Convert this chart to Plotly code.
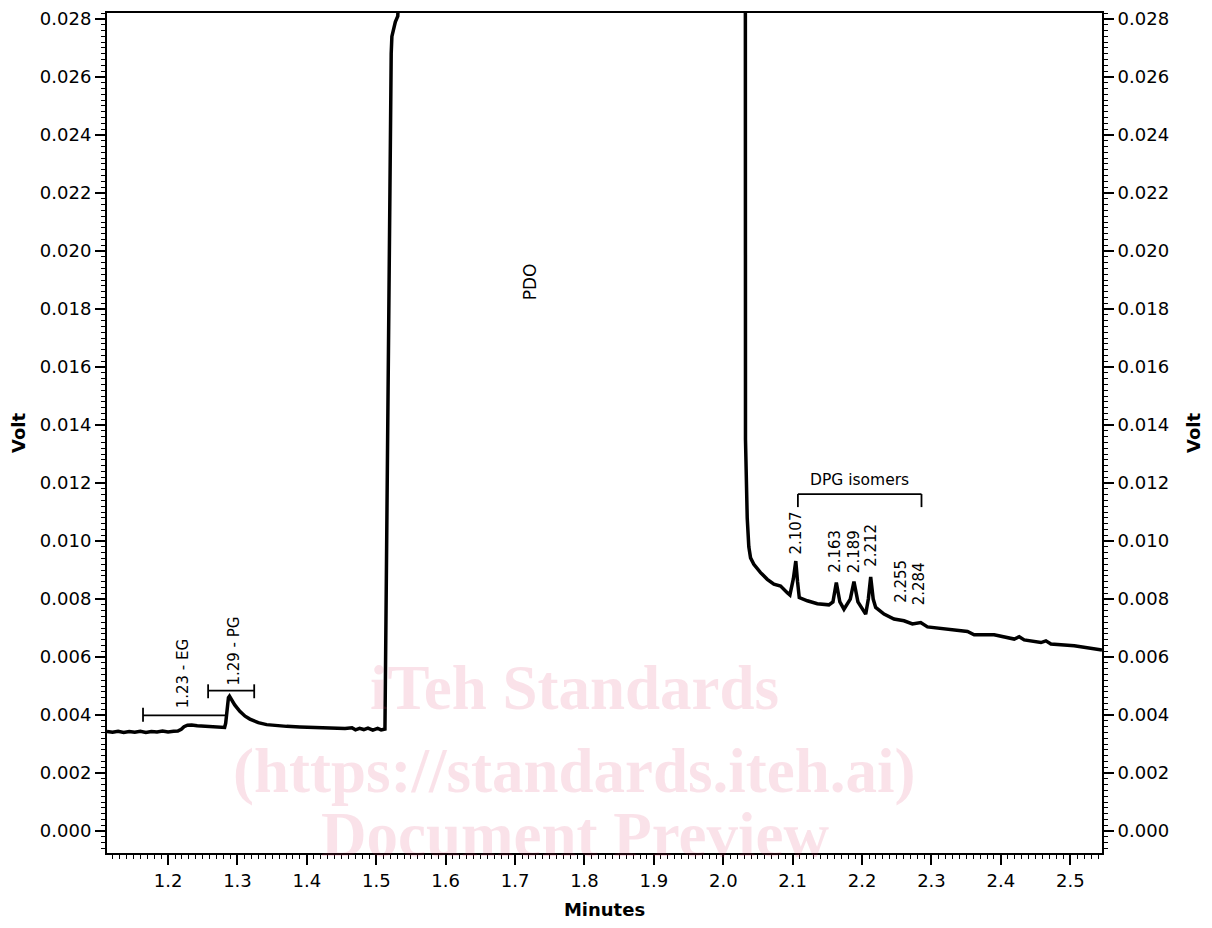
import plotly.graph_objects as go

# ---- data ----
time_min = [
    1.112, 1.120, 1.128, 1.136, 1.144, 1.152, 1.160, 1.168, 1.176, 1.184,
    1.192, 1.200, 1.208, 1.214, 1.219, 1.223, 1.228, 1.234, 1.242, 1.252,
    1.262, 1.272, 1.2815, 1.2830, 1.2845, 1.2870, 1.2885, 1.2910, 1.2960, 1.3034,
    1.3110, 1.3179, 1.3300, 1.3420, 1.3560, 1.3708, 1.3900, 1.4100, 1.4376, 1.4550,
    1.4650, 1.4700, 1.4760, 1.4820, 1.4880, 1.4950, 1.5020, 1.5070, 1.5125, 1.5140,
    1.5160, 1.5180, 1.5199, 1.5215, 1.5225, 1.5250, 1.5275, 1.5310, 1.5340, 1.5600,
    1.7800, 2.0000, 2.0318, 2.0320, 2.0345, 2.0368, 2.0393, 2.0440, 2.0537, 2.0634,
    2.0729, 2.0826, 2.0922, 2.0960, 2.1010, 2.1045, 2.1070, 2.1095, 2.1211, 2.1355,
    2.1522, 2.1580, 2.1629, 2.1680, 2.1739, 2.1830, 2.1883, 2.1940, 2.2052, 2.2090,
    2.2124, 2.2160, 2.2196, 2.2316, 2.2460, 2.2604, 2.2725, 2.2845, 2.2942, 2.3231,
    2.3519, 2.3615, 2.3903, 2.4192, 2.4264, 2.4336, 2.4577, 2.4649, 2.4721, 2.5057,
    2.5457,
]
volt = [
    0.00343, 0.00341, 0.00344, 0.00340, 0.00343, 0.00341, 0.00344, 0.00340, 0.00343, 0.00342,
    0.00345, 0.00342, 0.00344, 0.00345, 0.00351, 0.00360, 0.00365, 0.00366, 0.00363, 0.00361,
    0.00360, 0.00358, 0.00357, 0.00372, 0.00420, 0.00460, 0.00465, 0.00455, 0.00435, 0.00413,
    0.00396, 0.00386, 0.00374, 0.00367, 0.00363, 0.00361, 0.00359, 0.00357, 0.00356, 0.00354,
    0.00356, 0.00349, 0.00354, 0.00350, 0.00355, 0.00348, 0.00354, 0.00349, 0.00352, 0.00800,
    0.01400, 0.02000, 0.02450, 0.02680, 0.02740, 0.02770, 0.02790, 0.02810, 0.03000, 0.05000,
    0.12000, 0.06000, 0.03000, 0.01350, 0.01080, 0.00980, 0.00942, 0.00920, 0.00891, 0.00868,
    0.00851, 0.00845, 0.00822, 0.00814, 0.00870, 0.00931, 0.00860, 0.00805, 0.00794, 0.00784,
    0.00780, 0.00790, 0.00857, 0.00790, 0.00765, 0.00800, 0.00860, 0.00790, 0.00748, 0.00800,
    0.00876, 0.00800, 0.00771, 0.00748, 0.00731, 0.00725, 0.00714, 0.00719, 0.00704, 0.00696,
    0.00688, 0.00677, 0.00677, 0.00662, 0.00670, 0.00659, 0.00650, 0.00656, 0.00645, 0.00639,
    0.00624,
]

# peak labels (retention times) and their label positions
peak_labels = ["2.107", "2.163", "2.189", "2.212", "2.255", "2.284"]
peak_label_x = [2.1042, 2.1619, 2.1883, 2.2124, 2.2557, 2.2821]
peak_label_y = [0.01028, 0.00965, 0.00965, 0.00986, 0.00862, 0.00851]

compound_labels = ["1.23 - EG", "1.29 - PG", "PDO"]
compound_label_x = [1.2212, 1.2949, 1.7219]
compound_label_y = [0.00543, 0.00622, 0.01893]

# integration windows (start, end, level)
eg_window = [1.1639, 1.2833, 0.00399]
pg_window = [1.2577, 1.3241, 0.00484]
dpg_window = [2.1075, 2.2856, 0.01162]

x_range = [1.112, 2.5457]
y_range = [-0.000756, 0.028206]

FONT = "DejaVu Sans"

fig = go.Figure()
fig.add_trace(go.Scatter(
    x=time_min, y=volt, mode="lines",
    line=dict(color="black", width=3.5), hoverinfo="skip", showlegend=False,
))
# invisible twin for the right-hand axis
fig.add_trace(go.Scatter(
    x=time_min, y=volt, mode="lines", yaxis="y2",
    line=dict(color="rgba(0,0,0,0)", width=0), hoverinfo="skip", showlegend=False,
))

axis_common = dict(
    showgrid=False, zeroline=False, showline=True, linecolor="black", linewidth=2,
    ticks="outside", ticklen=10, tickwidth=1.5, tickcolor="black", automargin=False,
    ticklabeloverflow="allow",
    tickfont=dict(family=FONT, size=18, color="black"),
)

fig.update_layout(
    width=1196, height=912,
    margin=dict(l=99, r=102, t=5, b=67, autoexpand=False),
    paper_bgcolor="white", plot_bgcolor="white",
    font=dict(family=FONT, color="black"),
    xaxis=dict(
        **axis_common, range=x_range, tick0=0, dtick=0.1, tickformat=".1f",
        mirror=True,
        minor=dict(dtick=0.01, ticks="outside", ticklen=4, tickwidth=1.2, tickcolor="black"),
        title=dict(text="<b>Minutes</b>", font=dict(family=FONT, size=18), standoff=22),
    ),
    yaxis=dict(
        **axis_common, range=y_range, tick0=0, dtick=0.002, tickformat=".3f",
        minor=dict(dtick=0.0002, ticks="outside", ticklen=4, tickwidth=1.2, tickcolor="black"),
        title=dict(text="<b>Volt</b>", font=dict(family=FONT, size=18), standoff=12),
    ),
    yaxis2=dict(
        **axis_common, range=y_range, tick0=0, dtick=0.002, tickformat=".3f",
        overlaying="y", side="right",
        minor=dict(dtick=0.0002, ticks="outside", ticklen=4, tickwidth=1.2, tickcolor="black"),
        title=dict(text="<b>Volt</b>", font=dict(family=FONT, size=18), standoff=22),
    ),
)

line_style = dict(color="black", width=1.8)
shapes = []
# EG window: left cap + horizontal
shapes.append(dict(type="line", xref="x", yref="y", x0=eg_window[0], x1=eg_window[1],
                   y0=eg_window[2], y1=eg_window[2], line=line_style))
shapes.append(dict(type="line", xref="x", yref="y", x0=eg_window[0], x1=eg_window[0],
                   y0=eg_window[2] - 0.00022, y1=eg_window[2] + 0.00026, line=line_style))
# PG window: caps both ends
shapes.append(dict(type="line", xref="x", yref="y", x0=pg_window[0], x1=pg_window[1],
                   y0=pg_window[2], y1=pg_window[2], line=line_style))
for xe in (pg_window[0], pg_window[1]):
    shapes.append(dict(type="line", xref="x", yref="y", x0=xe, x1=xe,
                       y0=pg_window[2] - 0.00026, y1=pg_window[2] + 0.00022, line=line_style))
# DPG bracket
shapes.append(dict(type="line", xref="x", yref="y", x0=dpg_window[0], x1=dpg_window[1],
                   y0=dpg_window[2], y1=dpg_window[2], line=line_style))
for xe in (dpg_window[0], dpg_window[1]):
    shapes.append(dict(type="line", xref="x", yref="y", x0=xe, x1=xe,
                       y0=dpg_window[2] - 0.00045, y1=dpg_window[2], line=line_style))
fig.update_layout(shapes=shapes)

for t, xx, yy in zip(peak_labels, peak_label_x, peak_label_y):
    fig.add_annotation(x=xx, y=yy, xref="x", yref="y", text=t, textangle=-90,
                       showarrow=False, xanchor="center", yanchor="middle",
                       font=dict(family=FONT, size=15, color="black"))
for t, xx, yy in zip(compound_labels, compound_label_x, compound_label_y):
    fig.add_annotation(x=xx, y=yy, xref="x", yref="y", text=t, textangle=-90,
                       showarrow=False, xanchor="center", yanchor="middle",
                       font=dict(family=FONT, size=17 if t == "PDO" else 15, color="black"))
fig.add_annotation(x=(dpg_window[0] + dpg_window[1]) / 2, y=0.01212, xref="x", yref="y",
                   text="DPG isomers", showarrow=False, xanchor="center", yanchor="middle",
                   font=dict(family=FONT, size=15.5, color="black"))

# watermark of the source document
wm_color = "rgba(220,60,110,0.15)"
for txt, py in [("iTeh Standards", 0.196), ("(https://standards.iteh.ai)", 0.098),
                ("Document Preview", 0.022)]:
    fig.add_annotation(x=0.470, y=py, xref="paper", yref="paper", text="<b>" + txt + "</b>",
                       showarrow=False, xanchor="center", yanchor="middle",
                       font=dict(family="Liberation Serif", size=63, color=wm_color))

fig.write_html("out.html")
